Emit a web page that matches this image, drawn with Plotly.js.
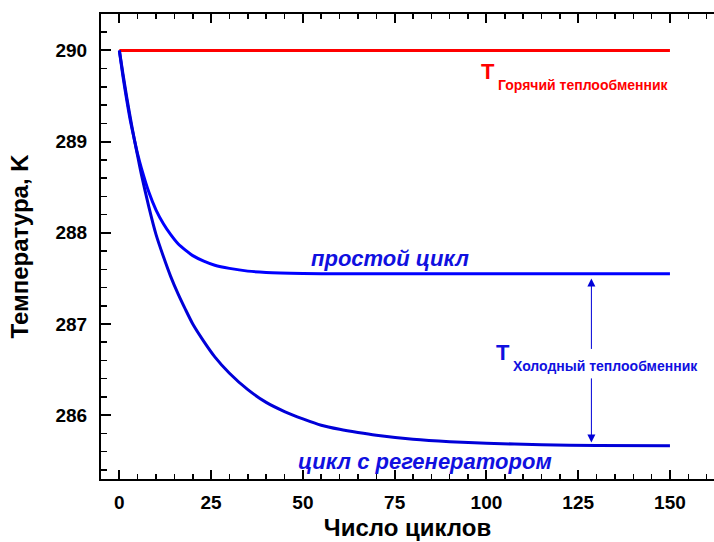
<!DOCTYPE html>
<html>
<head>
<meta charset="utf-8">
<script src="https://cdn.plot.ly/plotly-3.0.1.min.js"></script>
<style>html,body{margin:0;padding:0;background:#fff;}#chart{width:714px;height:542px;}</style>
</head>
<body>
<div id="chart"></div>
<script>
// Hot heat exchanger temperature
const hotCycles = [0, 150];
const hotTemp = [290, 290];

// Simple cycle
const simpleCycles = [0, 1, 2, 3, 4, 5, 6, 8, 10, 12, 14, 16, 18, 20, 23, 26, 30, 35, 40, 50, 60, 75, 100, 125, 150];
const simpleTemp = [290, 289.71, 289.46, 289.23, 289.04, 288.86, 288.71, 288.45, 288.25, 288.10, 287.98, 287.88, 287.81, 287.75, 287.69, 287.645, 287.61, 287.58, 287.566, 287.555, 287.55, 287.55, 287.55, 287.55, 287.55];

// Cycle with regenerator
const regenCycles = [0, 1, 2, 3, 4, 5, 6, 8, 10, 12, 14, 16, 18, 20, 23, 26, 30, 35, 40, 45, 50, 55, 60, 65, 70, 80, 90, 100, 115, 130, 150];
const regenTemp = [290, 289.74, 289.49, 289.26, 289.04, 288.84, 288.64, 288.29, 287.98, 287.74, 287.52, 287.33, 287.16, 287.00, 286.81, 286.64, 286.46, 286.28, 286.14, 286.04, 285.96, 285.89, 285.845, 285.81, 285.78, 285.736, 285.709, 285.692, 285.676, 285.668, 285.664];

const xTitle = 'Число циклов';
const yTitle = 'Температура, K';
const labelSimple = 'простой цикл';
const labelRegen = 'цикл с регенератором';
const labelHotSub = 'Горячий теплообменник';
const labelColdSub = 'Холодный теплообменник';

const F = 'Liberation Sans, Arial, sans-serif';
const BLUE = '#0000ff';
const BLUE2 = '#0000d8';
const TXTBLUE = '#1010e0';
const RED = '#ff0000';

const traces = [
  {x: hotCycles, y: hotTemp, mode: 'lines', line: {color: RED, width: 3}, hoverinfo: 'skip'},
  {x: simpleCycles, y: simpleTemp, mode: 'lines', line: {color: BLUE, width: 3, shape: 'spline', smoothing: 0.6}, hoverinfo: 'skip'},
  {x: regenCycles, y: regenTemp, mode: 'lines', line: {color: BLUE2, width: 3, shape: 'spline', smoothing: 0.6}, hoverinfo: 'skip'}
];

const annotations = [
  {x: 100.5, y: 289.77, xref: 'x', yref: 'y', text: 'T', showarrow: false, xanchor: 'center', yanchor: 'middle',
   font: {family: F, size: 22, color: RED, weight: 'bold'}},
  {x: 102.6, y: 289.62, xref: 'x', yref: 'y', text: labelHotSub, showarrow: false, xanchor: 'left', yanchor: 'middle',
   font: {family: F, size: 14, color: RED, weight: 'bold'}},
  {x: 73.8, y: 287.72, xref: 'x', yref: 'y', text: labelSimple, showarrow: false, xanchor: 'center', yanchor: 'middle',
   font: {family: F, size: 22, color: TXTBLUE, weight: 'bold', style: 'italic'}},
  {x: 83.4, y: 285.49, xref: 'x', yref: 'y', text: labelRegen, showarrow: false, xanchor: 'center', yanchor: 'middle',
   font: {family: F, size: 22, color: TXTBLUE, weight: 'bold', style: 'italic'}},
  {x: 104.6, y: 286.69, xref: 'x', yref: 'y', text: 'T', showarrow: false, xanchor: 'center', yanchor: 'middle',
   font: {family: F, size: 22, color: TXTBLUE, weight: 'bold'}},
  {x: 106.6, y: 286.54, xref: 'x', yref: 'y', text: labelColdSub, showarrow: false, xanchor: 'left', yanchor: 'middle',
   font: {family: F, size: 14, color: TXTBLUE, weight: 'bold'}},
  {x: 128.6, y: 287.50, ax: 128.6, ay: 286.71, xref: 'x', yref: 'y', axref: 'x', ayref: 'y', text: '',
   showarrow: true, arrowhead: 2, arrowsize: 1.6, arrowwidth: 1, arrowcolor: BLUE2, standoff: 0, startstandoff: 0},
  {x: 128.6, y: 285.70, ax: 128.6, ay: 286.42, xref: 'x', yref: 'y', axref: 'x', ayref: 'y', text: '',
   showarrow: true, arrowhead: 2, arrowsize: 1.6, arrowwidth: 1, arrowcolor: BLUE2, standoff: 0, startstandoff: 0}
];

const layout = {
  width: 714, height: 542,
  margin: {l: 101, r: 0, t: 14, b: 63},
  paper_bgcolor: '#ffffff', plot_bgcolor: '#ffffff',
  showlegend: false,
  font: {family: F, color: '#000'},
  xaxis: {
    range: [-5, 162], showgrid: false, zeroline: false,
    showline: true, linecolor: '#000', linewidth: 2, mirror: 'ticks',
    ticks: 'inside', ticklen: 9, tickwidth: 2, tickcolor: '#000',
    tick0: 0, dtick: 25,
    minor: {dtick: 5, ticks: 'inside', ticklen: 5, tickwidth: 1.5, tickcolor: '#000'},
    tickfont: {family: F, size: 19, weight: 'bold', color: '#000'},
    ticklabelstandoff: 5,
    title: {text: xTitle, font: {family: F, size: 24, weight: 'bold', color: '#000'}, standoff: 7}
  },
  yaxis: {
    range: [285.3, 290.4], showgrid: false, zeroline: false,
    showline: true, linecolor: '#000', linewidth: 2, mirror: false,
    ticks: 'inside', ticklen: 10, tickwidth: 2, tickcolor: '#000',
    tick0: 286, dtick: 1,
    minor: {dtick: 0.2, ticks: 'inside', ticklen: 6, tickwidth: 1.5, tickcolor: '#000'},
    tickfont: {family: F, size: 19, weight: 'bold', color: '#000'},
    ticklabelstandoff: 8,
    title: {text: yTitle, font: {family: F, size: 24, weight: 'bold', color: '#000'}, standoff: 20}
  },
  annotations: annotations
};

Plotly.newPlot('chart', traces, layout, {displayModeBar: false, staticPlot: true});
</script>
</body>
</html>
